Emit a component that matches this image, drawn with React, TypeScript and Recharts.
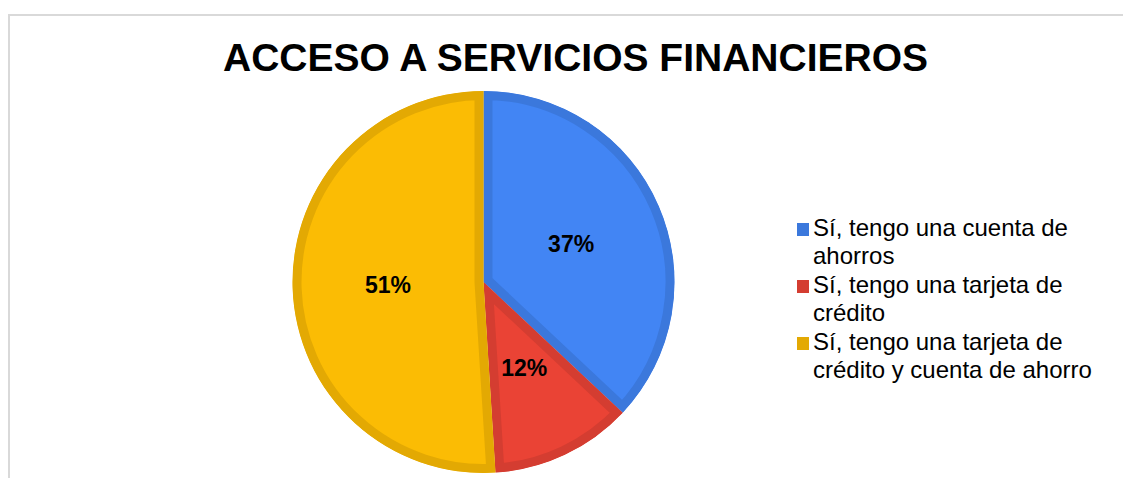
import React from "react";
import { PieChart, Pie, Cell, Legend, Sector } from "recharts";

const categories = [
  "Sí, tengo una cuenta de ahorros",
  "Sí, tengo una tarjeta de crédito",
  "Sí, tengo una tarjeta de crédito y cuenta de ahorro",
];
const values = [37, 12, 51];
const fills = ["#4285F4", "#EA4335", "#FBBC04"];
const strokes = ["#3B78DC", "#D43D31", "#E3A903"];
const title = "ACCESO A SERVICIOS FINANCIEROS";

const data = categories.map((name, i) => ({ name, value: values[i] }));
const total = values.reduce((a, b) => a + b, 0);

const RAD = Math.PI / 180;

const renderLabel = (props: any) => {
  const { cx, cy, midAngle, outerRadius, value } = props;
  const r = outerRadius * 0.5;
  const x = cx + r * Math.cos(-midAngle * RAD);
  const y = cy + r * Math.sin(-midAngle * RAD);
  return (
    <text
      x={x}
      y={y + 8}
      textAnchor="middle"
      fill="#000"
      fontFamily="'Liberation Sans', Arial, sans-serif"
      fontWeight="bold"
      fontSize={23}
    >
      {`${Math.round((value / total) * 100)}%`}
    </text>
  );
};

const renderShape = (props: any, index: number) => {
  const { cx, cy, innerRadius, outerRadius, startAngle, endAngle, fill, stroke } = props;
  const id = `slice-clip-${index}`;
  return (
    <g>
      <defs>
        <clipPath id={id}>
          <Sector
            cx={cx}
            cy={cy}
            innerRadius={innerRadius}
            outerRadius={outerRadius}
            startAngle={startAngle}
            endAngle={endAngle}
          />
        </clipPath>
      </defs>
      <Sector
        cx={cx}
        cy={cy}
        innerRadius={innerRadius}
        outerRadius={outerRadius}
        startAngle={startAngle}
        endAngle={endAngle}
        fill={fill}
        stroke={stroke}
        strokeWidth={18}
        clipPath={`url(#${id})`}
      />
    </g>
  );
};

const renderLegend = (props: any) => {
  const { payload } = props;
  return (
    <div>
      {payload.map((entry: any, i: number) => (
        <div key={i} style={{ display: "flex", alignItems: "flex-start", marginBottom: 2 }}>
          <div
            style={{
              width: 12.5,
              height: 12.5,
              marginTop: 9,
              marginRight: 4,
              background: strokes[i],
              flexShrink: 0,
            }}
          />
          <div
            style={{
              width: 300,
              fontFamily: "'Liberation Sans', Arial, sans-serif",
              fontSize: 24,
              lineHeight: "27.5px",
              color: "#000",
            }}
          >
            {entry.value}
          </div>
        </div>
      ))}
    </div>
  );
};

export default function App() {
  return (
    <div style={{ position: "relative", width: 1115, height: 470, overflow: "hidden" }}>
      <div
        style={{
          position: "absolute",
          top: 6,
          left: 0,
          width: 1200,
          height: 600,
          borderTop: "2px solid #d9d9d9",
          borderLeft: "2px solid #d9d9d9",
        }}
      />
      <div
        style={{
          position: "absolute",
          top: 29.7,
          left: 0,
          width: 1135,
          textAlign: "center",
          fontFamily: "'Liberation Sans', Arial, sans-serif",
          fontWeight: "bold",
          fontSize: 39,
          lineHeight: "39px",
          color: "#000",
        }}
      >
        {title}
      </div>
      <div style={{ position: "absolute", top: 0, left: 0 }}>
        <PieChart width={1115} height={470} margin={{ top: 0, right: 0, bottom: 0, left: 0 }}>
          <Pie
            data={data}
            dataKey="value"
            nameKey="name"
            cx={475.5}
            cy={274}
            outerRadius={191}
            innerRadius={0}
            startAngle={90}
            endAngle={-270}
            shape={renderShape}
            label={renderLabel}
            labelLine={false}
            isAnimationActive={false}
          >
            {data.map((d, i) => (
              <Cell key={d.name} fill={fills[i]} stroke={strokes[i]} />
            ))}
          </Pie>
          <Legend
            layout="vertical"
            verticalAlign="middle"
            align="right"
            content={renderLegend}
            wrapperStyle={{ position: "absolute", left: 788.5, top: 206, width: 330 }}
          />
        </PieChart>
      </div>
    </div>
  );
}
